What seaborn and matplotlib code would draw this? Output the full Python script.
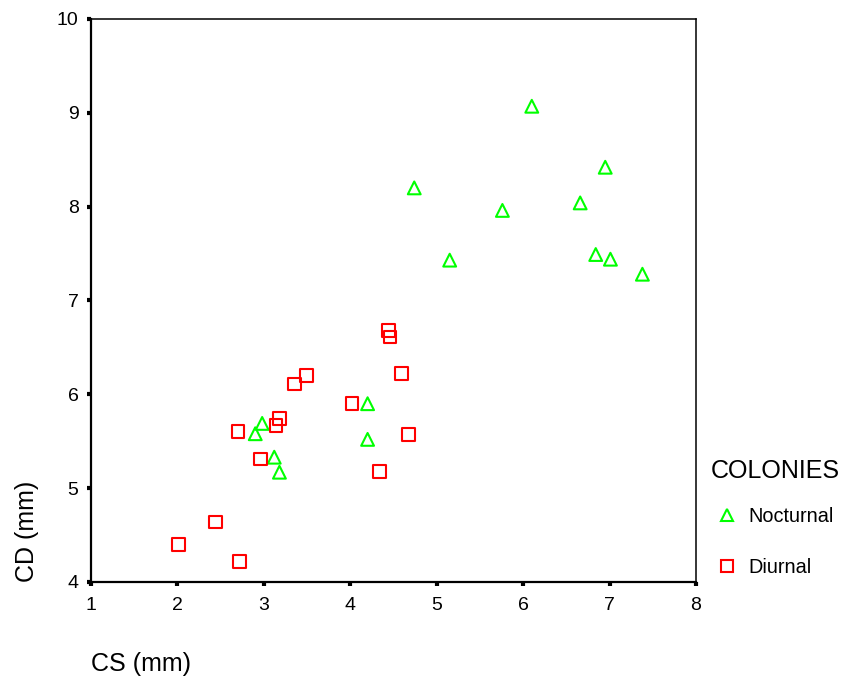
import matplotlib
matplotlib.use("Agg")
import matplotlib.pyplot as plt
from matplotlib.lines import Line2D
import seaborn as sns
import pandas as pd

# values
nocturnal_cs = [6.10, 6.95, 4.74, 6.66, 5.76, 5.15, 6.84, 7.01, 7.38,
                2.98, 2.90, 3.12, 3.18, 4.20, 4.20]
nocturnal_cd = [9.07, 8.42, 8.20, 8.04, 7.96, 7.43, 7.49, 7.44, 7.28,
                5.69, 5.58, 5.33, 5.17, 5.90, 5.52]
diurnal_cs = [2.01, 2.44, 2.72, 2.70, 2.96, 3.14, 3.18, 3.35, 3.49,
              4.02, 4.44, 4.46, 4.59, 4.67, 4.34]
diurnal_cd = [4.40, 4.64, 4.22, 5.60, 5.31, 5.67, 5.74, 6.11, 6.20,
              5.90, 6.68, 6.61, 6.22, 5.57, 5.18]
groups = ["Nocturnal", "Diurnal"]
colors = {"Nocturnal": "#00ff00", "Diurnal": "#ff0000"}
markers = {"Nocturnal": "^", "Diurnal": "s"}

df = pd.DataFrame({
    "CS": nocturnal_cs + diurnal_cs,
    "CD": nocturnal_cd + diurnal_cd,
    "COLONIES": ["Nocturnal"] * len(nocturnal_cs) + ["Diurnal"] * len(diurnal_cs),
})

sns.set_style("white")
plt.rcParams["font.family"] = ["Liberation Sans", "DejaVu Sans"]
plt.rcParams["text.color"] = "black"
plt.rcParams["axes.labelcolor"] = "black"
plt.rcParams["xtick.color"] = "black"
plt.rcParams["ytick.color"] = "black"

fig = plt.figure(figsize=(8.43, 6.78), dpi=100)
ax = fig.add_axes([0.108, 0.1416, 0.7176, 0.8304])

for g in groups:
    sub = df[df["COLONIES"] == g]
    sns.scatterplot(data=sub, x="CS", y="CD", marker=markers[g], s=85,
                    color=colors[g], ax=ax, legend=False)
    coll = ax.collections[-1]
    coll.set_facecolor("none")
    coll.set_edgecolor(colors[g])
    coll.set_linewidth(1.5)

ax.set_xlim(1, 8)
ax.set_ylim(4, 10)
ax.set_xticks(range(1, 9))
ax.set_yticks(range(4, 11))
ax.tick_params(axis="both", direction="out", length=3, width=3,
               color="black", labelcolor="black", labelsize=14, pad=6,
               bottom=True, left=True)
ax.tick_params(axis="x", pad=8)
for side in ["left", "bottom"]:
    ax.spines[side].set_linewidth(1.6)
for side in ["top", "right"]:
    ax.spines[side].set_linewidth(1.1)
for sp in ax.spines.values():
    sp.set_color("black")

ax.set_xlabel("CS (mm)", fontsize=18, loc="left", labelpad=27)
ax.set_ylabel("CD (mm)", fontsize=18, loc="bottom", labelpad=13)

handles = [Line2D([], [], linestyle="none", marker=markers[g], markersize=9,
                  markerfacecolor="none", markeredgecolor=colors[g],
                  markeredgewidth=1.5) for g in groups]
leg = fig.legend(handles, groups, title="COLONIES", loc="upper left",
                 bbox_to_anchor=(0.822, 0.349), frameon=False, fontsize=14.3,
                 title_fontsize=18, labelspacing=1.6, handletextpad=0.3,
                 handlelength=1.6, alignment="left")
leg._legend_box.sep = 17

fig.savefig("out.png", dpi=100)
